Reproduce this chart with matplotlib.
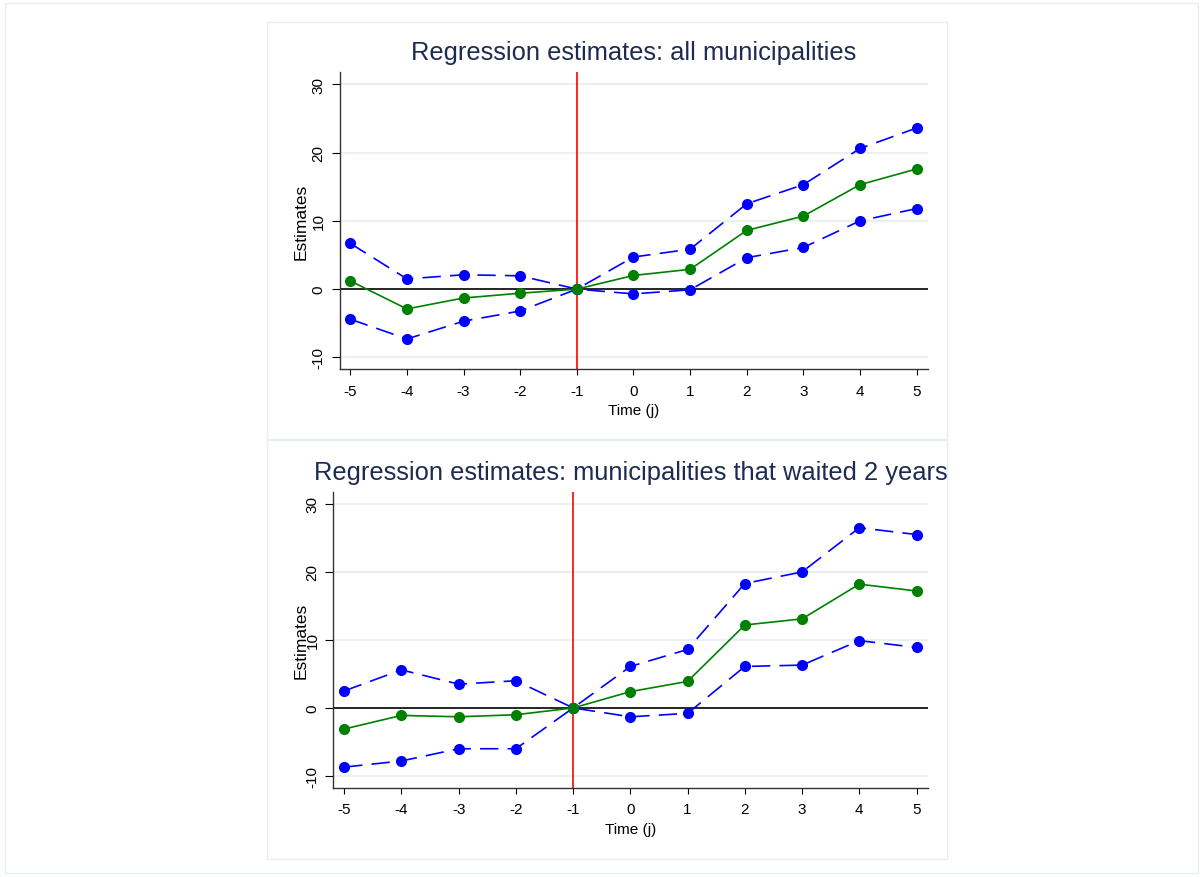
import matplotlib.pyplot as plt
from matplotlib.patches import Rectangle

# event time
periods = [-5, -4, -3, -2, -1, 0, 1, 2, 3, 4, 5]

# all municipalities
all_est = [1.2, -2.9, -1.3, -0.6, 0.0, 2.0, 2.9, 8.6, 10.7, 15.3, 17.6]
all_upper = [6.7, 1.5, 2.1, 1.95, 0.0, 4.7, 5.85, 12.5, 15.3, 20.6, 23.6]
all_lower = [-4.4, -7.3, -4.7, -3.2, 0.0, -0.7, -0.1, 4.6, 6.1, 10.0, 11.8]

# municipalities that waited 2 years
wait_est = [-3.1, -1.1, -1.3, -1.0, 0.0, 2.4, 3.9, 12.2, 13.1, 18.2, 17.2]
wait_upper = [2.5, 5.6, 3.5, 4.0, 0.0, 6.1, 8.6, 18.3, 20.0, 26.5, 25.5]
wait_lower = [-8.7, -7.8, -6.0, -6.0, 0.0, -1.3, -0.8, 6.1, 6.3, 9.9, 8.9]

y_ticks = [-10, 0, 10, 20, 30]

W, H = 1203, 878
TITLE_COLOR = '#1e2b50'
GRID_COLOR = '#e8f0f2'
FRAME_COLOR = '#e6eef0'

plt.rcParams['font.family'] = ['Liberation Sans', 'DejaVu Sans']
plt.rcParams['axes.unicode_minus'] = False

fig = plt.figure(figsize=(W / 100, H / 100), dpi=100)


def px_rect(x0, y0, x1, y1):
    # pixel box (top-left origin) -> figure fraction rect
    return [x0 / W, 1 - y1 / H, (x1 - x0) / W, (y1 - y0) / H]


def frame(x0, y0, x1, y1):
    r = Rectangle((x0 / W, 1 - y1 / H), (x1 - x0) / W, (y1 - y0) / H,
                  transform=fig.transFigure, fill=False,
                  edgecolor=FRAME_COLOR, linewidth=1.0)
    fig.add_artist(r)
    return r


frame(5, 4, 1198, 874)


def draw_panel(box, panel, title, est, upper, lower):
    ax = fig.add_axes(px_rect(*box))
    ax.set_xlim(-5.19, 5.2)
    ax.set_ylim(-11.7, 31.8)
    ax.set_yticks(y_ticks)
    ax.set_xticks(periods)
    ax.set_xticklabels([str(p) for p in periods])
    ax.tick_params(axis='y', labelrotation=90, labelsize=11, length=6,
                   width=0.8, pad=4)
    ax.tick_params(axis='x', labelsize=11, length=4.5, width=0.8, pad=6)
    for lbl in ax.get_yticklabels():
        lbl.set_verticalalignment('center')
    for s in ['top', 'right']:
        ax.spines[s].set_visible(False)
    for s in ['left', 'bottom']:
        ax.spines[s].set_linewidth(1.0)
        ax.spines[s].set_color('#333333')
    for yv in y_ticks:
        if yv != 0:
            ax.axhline(yv, color=GRID_COLOR, linewidth=1.5, zorder=0)
    ax.axhline(0, color='black', linewidth=1.2, zorder=1)
    ax.axvline(-1, color='red', linewidth=1.2, zorder=1)

    for series in (upper, lower):
        ax.plot(periods, series, color='blue', linewidth=1.2,
                dashes=(11, 5.5), marker='o', markersize=7, zorder=3)
    ax.plot(periods, est, color='green', linewidth=1.2, marker='o',
            markersize=7, zorder=4)

    ax.set_xlabel('Time (j)', fontsize=11, labelpad=4)
    ax.set_ylabel('Estimates', fontsize=12.5)
    # label sits at a fixed pixel column in both panels
    ax.yaxis.set_label_coords((308.5 - box[0]) / (box[2] - box[0]), 0.5)

    clip = frame(*panel)
    cx = (box[0] + box[2]) / 2 / W
    t = fig.text(cx, 1 - (box[1] - 13) / H, title, ha='center',
                 va='baseline', fontsize=18.4, color=TITLE_COLOR)
    t.set_clip_path(clip)
    return ax


draw_panel((339.5, 73, 928, 370), (267, 23, 947, 440),
           'Regression estimates: all municipalities',
           all_est, all_upper, all_lower)
draw_panel((333.3, 492.7, 928, 788.5), (267, 441, 947, 860),
           'Regression estimates: municipalities that waited 2 years',
           wait_est, wait_upper, wait_lower)

fig.savefig('out.png', dpi=100)
